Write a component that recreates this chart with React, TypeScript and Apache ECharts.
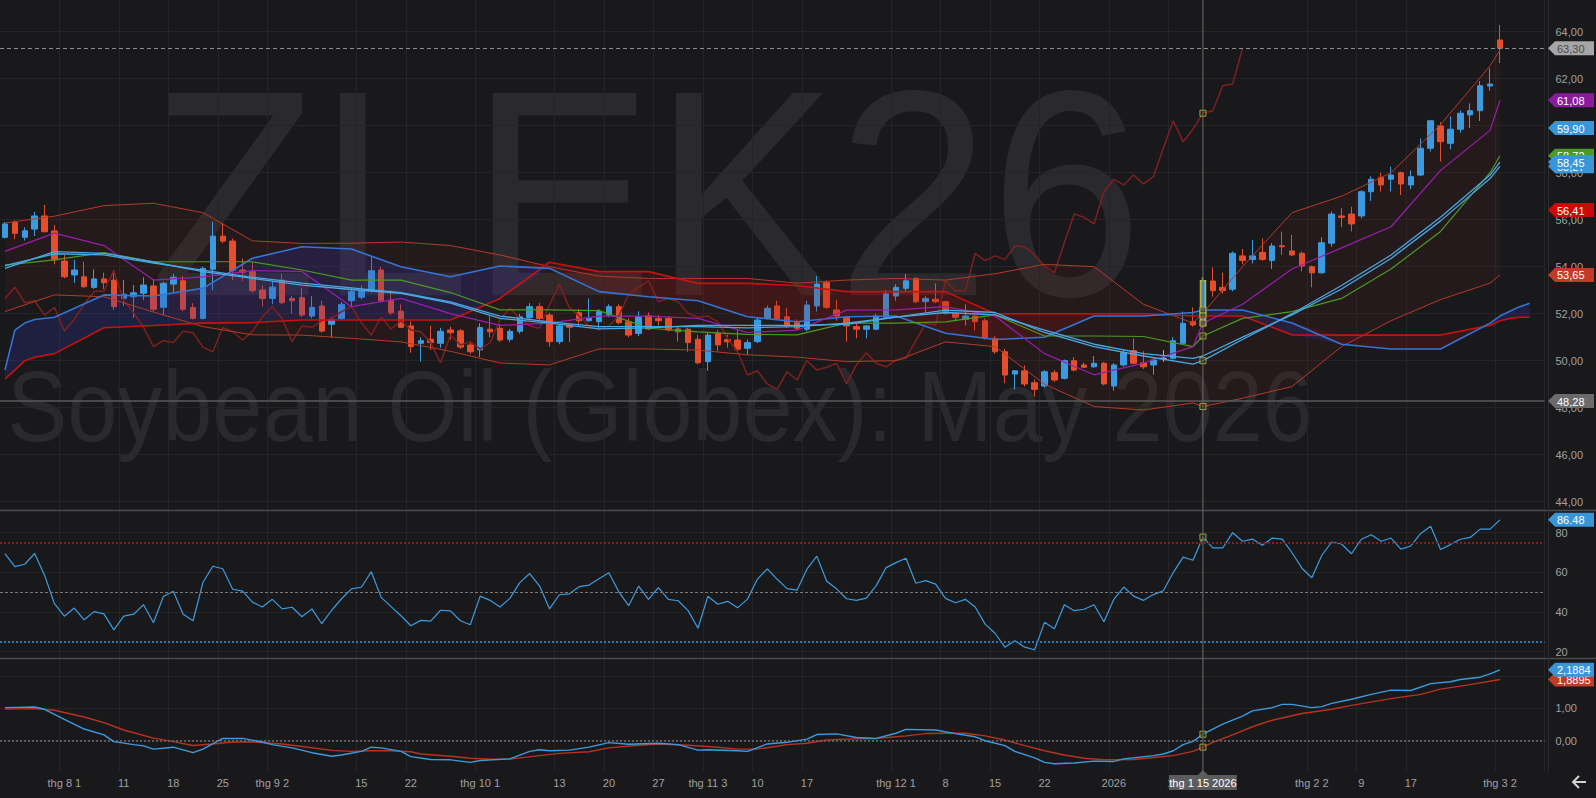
import React, { useEffect, useRef } from "react";
import * as echarts from "echarts";

// ---------- categories (trading days) ----------
const monthDays: [string, number[]][] = [
  ["2025-07", [24, 25, 28, 29, 30, 31]],
  ["2025-08", [1, 4, 5, 6, 7, 8, 11, 12, 13, 14, 15, 18, 19, 20, 21, 22, 25, 26, 27, 28, 29]],
  ["2025-09", [2, 3, 4, 5, 8, 9, 10, 11, 12, 15, 16, 17, 18, 19, 22, 23, 24, 25, 26, 29, 30]],
  ["2025-10", [1, 2, 3, 6, 7, 8, 9, 10, 13, 14, 15, 16, 17, 20, 21, 22, 23, 24, 27, 28, 29, 30, 31]],
  ["2025-11", [3, 4, 5, 6, 7, 10, 11, 12, 13, 14, 17, 18, 19, 20, 21, 24, 25, 26, 28]],
  ["2025-12", [1, 2, 3, 4, 5, 8, 9, 10, 11, 12, 15, 16, 17, 18, 19, 22, 23, 24, 26, 29, 30, 31]],
  ["2026-01", [2, 5, 6, 7, 8, 9, 12, 13, 14, 15, 16, 20, 21, 22, 23, 26, 27, 28, 29, 30]],
  ["2026-02", [2, 3, 4, 5, 6, 9, 10, 11, 12, 13, 17, 18, 19, 20, 23, 24, 25, 26, 27]],
  ["2026-03", [2]],
];
const futureSlots = ["+1", "+2", "+3", "+4"];

const tickLabels: Record<string, string> = {
  "2025-08-01": "thg 8 1", "2025-08-11": "11", "2025-08-18": "18", "2025-08-25": "25",
  "2025-09-02": "thg 9 2", "2025-09-15": "15", "2025-09-22": "22",
  "2025-10-01": "thg 10 1", "2025-10-13": "13", "2025-10-20": "20", "2025-10-27": "27",
  "2025-11-03": "thg 11 3", "2025-11-10": "10", "2025-11-17": "17",
  "2025-12-01": "thg 12 1", "2025-12-08": "8", "2025-12-15": "15", "2025-12-22": "22",
  "2026-01-02": "2026", "2026-01-12": "12",
  "2026-02-02": "thg 2 2", "2026-02-09": "9", "2026-02-17": "17", "2026-03-02": "thg 3 2",
};
const crossDate = "2026-01-15";
const crossLabel = "thg 1 15 2026";

// ---------- OHLC ----------
const open = [
  55.25, 55.89, 55.25, 55.60, 56.16, 55.52, 54.24, 53.65, 53.57, 53.12,
  53.48, 53.43, 52.65, 52.72, 52.87, 53.18, 52.27, 53.26, 53.40, 52.26,
  51.80, 53.89, 55.30, 55.09, 53.86, 53.79, 53.01, 52.65, 53.43, 52.65,
  52.68, 51.90, 52.33, 51.55, 51.80, 52.55, 52.70, 52.98, 53.86, 52.58,
  52.11, 51.48, 50.74, 50.91, 50.74, 51.31, 51.27, 50.67, 50.46, 51.34,
  51.38, 50.91, 51.25, 51.83, 52.30, 51.94, 50.81, 51.52, 52.04, 51.70,
  51.66, 51.94, 52.30, 51.66, 51.16, 51.91, 51.80, 51.80, 51.35, 51.34,
  50.91, 49.96, 51.16, 50.90, 50.88, 50.53, 50.81, 51.80, 52.33, 51.87,
  51.62, 51.34, 52.33, 53.32, 52.16, 51.85, 51.45, 51.34, 51.34, 51.85,
  52.75, 53.08, 53.50, 52.51, 52.62, 52.51, 52.02, 51.76, 51.90, 51.70,
  50.95, 50.38, 49.43, 49.57, 49.06, 48.92, 49.49, 49.25, 50.00, 49.82,
  49.74, 49.89, 48.92, 49.82, 50.43, 49.91, 49.82, 50.10, 50.10, 50.74,
  51.66, 51.50, 53.39, 53.12, 53.04, 54.46, 54.31, 54.61, 54.26, 54.89,
  54.67, 54.57, 54.00, 53.74, 55.00, 56.16, 56.24, 56.16, 57.19, 57.80,
  57.72, 58.00, 57.48, 57.90, 59.04, 59.99, 59.25, 59.85, 60.46, 60.64,
  61.69, 63.65,
];
const high = [
  55.90, 55.98, 55.68, 56.34, 56.63, 55.77, 54.50, 54.29, 54.21, 53.89,
  53.75, 53.86, 53.43, 53.22, 53.55, 53.47, 53.35, 53.70, 53.60, 52.45,
  54.00, 55.91, 55.86, 55.20, 54.35, 54.20, 53.20, 53.40, 53.70, 52.75,
  53.10, 52.75, 52.55, 51.87, 52.50, 53.10, 53.20, 54.43, 54.00, 53.00,
  52.40, 51.66, 51.00, 51.48, 51.40, 51.45, 51.35, 50.80, 51.60, 51.90,
  51.55, 51.35, 52.00, 52.45, 52.45, 52.05, 51.55, 51.60, 52.20, 52.65,
  52.20, 52.40, 52.40, 51.80, 52.10, 52.05, 51.95, 51.90, 51.45, 51.40,
  51.10, 51.20, 51.30, 51.10, 51.35, 50.90, 51.85, 52.35, 52.55, 52.25,
  51.75, 52.55, 53.60, 53.42, 52.60, 51.85, 51.60, 51.50, 52.00, 53.00,
  53.25, 53.69, 53.55, 52.75, 53.29, 52.55, 52.05, 52.40, 51.95, 51.80,
  51.05, 50.50, 49.60, 49.80, 49.20, 49.60, 49.60, 50.05, 50.15, 49.92,
  50.20, 49.95, 49.90, 50.45, 50.95, 50.40, 50.10, 50.45, 51.00, 52.09,
  52.27, 53.55, 53.97, 53.75, 54.65, 54.75, 55.14, 55.20, 55.00, 55.49,
  55.35, 54.65, 54.05, 55.25, 56.35, 56.49, 56.55, 57.25, 57.85, 58.00,
  58.25, 58.05, 58.10, 59.46, 60.25, 60.15, 60.40, 60.65, 60.95, 61.90,
  62.44, 64.29,
];
const low = [
  55.20, 55.17, 55.11, 55.31, 55.45, 54.10, 53.50, 53.31, 53.10, 53.05,
  53.05, 52.16, 52.33, 51.82, 52.58, 52.09, 51.95, 52.90, 52.10, 51.75,
  51.75, 53.00, 55.00, 53.43, 53.40, 52.90, 52.30, 52.40, 52.40, 52.00,
  51.85, 51.80, 51.20, 50.98, 51.75, 52.30, 52.60, 52.90, 52.50, 51.95,
  51.40, 50.34, 49.96, 50.46, 50.55, 50.90, 50.50, 50.30, 50.16, 51.00,
  50.80, 50.80, 51.15, 51.75, 51.70, 50.60, 50.70, 50.80, 51.45, 51.66,
  51.30, 51.85, 51.55, 51.00, 51.05, 51.30, 51.50, 51.25, 50.81, 50.38,
  49.85, 49.57, 50.40, 50.55, 50.40, 50.25, 50.75, 51.75, 51.75, 51.40,
  51.30, 51.25, 52.09, 52.20, 51.70, 50.81, 50.95, 50.95, 51.30, 51.80,
  52.55, 52.94, 52.45, 52.05, 52.45, 51.95, 51.70, 51.50, 51.28, 50.90,
  50.30, 49.04, 48.78, 48.90, 48.47, 48.85, 49.10, 49.20, 49.55, 49.70,
  49.70, 48.95, 48.72, 49.75, 49.85, 49.65, 49.40, 49.95, 50.05, 50.70,
  51.45, 51.40, 52.72, 52.85, 52.95, 54.10, 54.14, 54.25, 53.90, 54.50,
  54.45, 53.80, 53.12, 53.70, 54.85, 55.68, 55.50, 56.05, 56.80, 57.20,
  57.20, 57.05, 57.30, 57.85, 58.90, 58.47, 59.00, 59.70, 59.90, 60.20,
  61.49, 62.66,
];
const close = [
  55.82, 55.42, 55.53, 56.16, 55.49, 54.29, 53.57, 53.86, 53.15, 53.48,
  53.32, 52.30, 52.83, 52.89, 53.22, 52.19, 53.29, 53.55, 52.19, 51.80,
  53.93, 55.30, 55.09, 53.83, 53.76, 52.98, 52.65, 53.13, 52.47, 52.55,
  51.94, 52.27, 51.26, 51.76, 52.40, 52.94, 52.97, 53.83, 52.55, 52.04,
  51.42, 50.60, 50.85, 50.77, 51.25, 51.19, 50.58, 50.38, 51.41, 51.23,
  50.88, 51.25, 51.87, 52.30, 51.80, 50.81, 51.48, 51.42, 51.70, 51.80,
  52.09, 52.30, 51.62, 51.09, 51.87, 51.35, 51.70, 51.31, 51.23, 50.77,
  49.91, 51.09, 50.67, 50.80, 50.49, 50.77, 51.73, 52.23, 51.80, 51.48,
  51.38, 52.37, 53.26, 52.27, 51.90, 51.48, 51.34, 51.48, 51.90, 52.84,
  53.12, 53.40, 52.51, 52.65, 52.51, 52.02, 51.85, 51.90, 51.66, 50.95,
  50.38, 49.39, 49.57, 49.01, 48.78, 49.53, 49.18, 50.00, 49.60, 49.72,
  49.89, 49.01, 49.82, 50.34, 49.89, 49.74, 50.03, 50.10, 50.85, 51.59,
  51.52, 53.40, 52.98, 52.98, 54.57, 54.26, 54.46, 54.31, 54.88, 54.85,
  54.50, 54.03, 53.74, 55.02, 56.24, 56.10, 55.82, 57.19, 57.72, 57.48,
  57.90, 57.52, 57.83, 59.04, 60.21, 59.32, 59.85, 60.53, 60.64, 61.70,
  61.77, 63.30,
];

// ---------- main-panel indicator lines, read at these bar indices ----------
const lineIdx = [0, 5, 10, 15, 20, 25, 30, 35, 40, 45, 50, 55, 60, 65, 70, 75, 80, 85, 90, 95, 100, 105, 110, 115, 120, 121, 125, 130, 135, 140, 145, 150, 151];
const bbUpper = [55.86, 56.15, 56.6, 56.7, 56.3, 55.1, 54.99, 55.0, 55.05, 54.9, 54.5, 54.0, 53.6, 53.5, 53.5, 53.5, 53.3, 53.43, 53.5, 53.43, 53.7, 54.1, 54.0, 52.4, 51.6, 52.03, 54.0, 56.3, 57.0, 58.0, 60.05, 62.55, 63.22];
const bbLower = [52.09, 52.8, 52.72, 52.07, 51.45, 51.1, 51.09, 50.95, 50.8, 50.4, 49.9, 49.82, 50.5, 50.5, 50.45, 50.25, 50.15, 49.96, 50.0, 50.8, 50.6, 49.0, 48.05, 47.9, 48.2, 48.05, 48.4, 48.9, 50.6, 51.7, 52.6, 53.3, 53.65];
const tenkan = [54.65, 55.43, 54.9, 53.43, 53.57, 53.83, 53.8, 52.3, 52.65, 52.0, 51.5, 51.6, 51.9, 51.9, 51.8, 51.2, 51.3, 52.15, 52.16, 52.3, 51.9, 50.3, 49.4, 49.9, 50.6, 51.6, 52.4, 53.9, 54.8, 55.7, 58.1, 59.8, 61.08];
const kijun = [54.07, 54.29, 54.6, 54.21, 54.21, 54.21, 53.86, 53.43, 53.43, 52.9, 52.16, 52.16, 52.13, 51.38, 51.23, 51.12, 51.1, 51.6, 51.6, 51.65, 51.95, 51.05, 51.05, 51.03, 50.6, 51.05, 51.8, 52.09, 52.65, 53.9, 55.5, 58.0, 58.72];
const sma20 = [53.93, 54.64, 54.57, 54.2, 53.79, 53.5, 53.22, 53.03, 52.87, 52.45, 51.8, 51.6, 51.35, 51.4, 51.5, 51.5, 51.5, 51.55, 51.85, 52.15, 52.05, 51.2, 50.6, 50.2, 49.85, 50.0, 50.9, 52.0, 53.2, 54.5, 56.1, 57.9, 58.45];
const ema20 = [54.05, 54.55, 54.5, 54.15, 53.85, 53.55, 53.3, 53.1, 52.9, 52.5, 51.9, 51.65, 51.45, 51.45, 51.45, 51.4, 51.45, 51.6, 51.85, 52.05, 51.95, 51.3, 50.7, 50.3, 50.1, 50.2, 51.0, 51.95, 53.05, 54.35, 55.95, 57.75, 58.27];

// ---------- Ichimoku cloud (runs a few bars past the last candle) ----------
const cloudIdx = [0, 1, 2, 3, 5, 10, 15, 20, 25, 30, 35, 40, 45, 50, 55, 60, 65, 70, 75, 80, 85, 90, 95, 100, 105, 110, 115, 120, 121, 125, 130, 135, 140, 145, 150, 151, 152, 153, 154];
const spanA = [49.6, 51.3, 51.6, 51.75, 51.85, 52.8, 52.75, 53.08, 54.36, 54.85, 54.75, 54.0, 53.57, 54.03, 53.93, 52.94, 52.72, 52.55, 51.87, 51.66, 51.87, 51.9, 51.17, 50.9, 51.0, 51.9, 51.9, 52.05, 52.16, 52.16, 51.6, 50.7, 50.5, 50.5, 51.6, 51.9, 52.1, 52.3, 52.44];
const spanB = [49.22, 49.6, 50.0, 50.15, 50.3, 51.4, 51.5, 51.6, 51.62, 51.73, 51.73, 51.73, 51.73, 52.65, 54.19, 53.79, 53.79, 53.29, 53.29, 53.2, 52.94, 52.94, 52.94, 52.0, 52.0, 52.0, 52.0, 51.9, 51.9, 51.9, 51.1, 51.09, 51.09, 51.09, 51.5, 51.7, 51.8, 51.85, 51.85];

// ---------- RSI (one value per bar) ----------
const rsi = [
  69.4, 62.9, 64.1, 69.5, 58.6, 44.2, 37.9, 42.0, 36.1, 40.2,
  39.1, 31.0, 37.9, 38.9, 43.7, 34.6, 47.8, 50.5, 38.9, 35.6,
  55.0, 63.1, 61.8, 51.5, 50.5, 45.0, 42.5, 46.4, 41.6, 42.4,
  37.6, 41.6, 34.1, 40.9, 46.7, 51.7, 52.5, 60.3, 47.4, 42.7,
  38.1, 33.1, 35.8, 35.4, 40.9, 40.6, 35.6, 33.6, 48.0, 45.9,
  42.5, 46.9, 54.8, 59.4, 53.1, 41.6, 48.7, 49.2, 52.8, 53.6,
  56.8, 59.8, 50.2, 43.2, 53.1, 46.4, 52.3, 46.4, 45.7, 40.7,
  31.8, 48.0, 43.9, 45.4, 42.1, 46.5, 56.6, 61.8, 56.5, 51.8,
  51.0, 61.6, 68.2, 55.5, 51.7, 46.7, 45.9, 47.0, 53.3, 62.4,
  64.9, 67.1, 54.5, 55.8, 54.1, 46.9, 44.7, 46.4, 42.5, 33.9,
  29.3, 22.3, 25.5, 22.3, 21.0, 34.8, 31.6, 43.7, 40.7, 41.4,
  43.7, 35.1, 46.4, 52.6, 48.0, 45.9, 48.8, 50.7, 59.9, 67.7,
  66.1, 77.8, 72.3, 72.3, 80.0, 75.7, 76.8, 73.7, 77.3, 76.8,
  69.9, 62.1, 57.3, 68.5, 75.3, 74.3, 69.4, 76.7, 79.0, 75.7,
  77.3, 71.7, 73.3, 79.6, 83.3, 71.5, 74.0, 76.7, 77.6, 81.8,
  81.8, 86.48,
];

// ---------- MACD (bar index, value) ----------
const macdLine: [number, number][] = [
  [0, 1.02], [3, 1.04], [4, 0.97], [6, 0.66], [8, 0.36], [10, 0.18], [11, -0.03], [13, -0.12], [14, -0.16], [15, -0.26],
  [17, -0.2], [19, -0.37], [20, -0.26], [22, 0.07], [24, 0.07], [26, -0.04], [27, -0.12], [29, -0.22], [31, -0.37], [33, -0.48],
  [34, -0.44], [36, -0.33], [37, -0.2], [38, -0.22], [40, -0.33], [41, -0.49], [43, -0.58], [45, -0.59], [47, -0.67], [48, -0.61],
  [51, -0.56], [53, -0.33], [54, -0.28], [55, -0.31], [57, -0.29], [59, -0.2], [61, -0.06], [63, -0.11], [66, -0.08], [68, -0.12],
  [70, -0.29], [71, -0.28], [74, -0.31], [75, -0.33], [77, -0.1], [79, -0.05], [81, 0.05], [82, 0.19], [84, 0.21], [86, 0.1],
  [88, 0.07], [90, 0.23], [91, 0.35], [94, 0.33], [96, 0.22], [98, 0.12], [99, 0.0], [101, -0.15], [102, -0.33], [104, -0.53],
  [105, -0.67], [106, -0.71], [108, -0.69], [110, -0.63], [112, -0.64], [113, -0.56], [116, -0.46], [117, -0.41], [118, -0.31], [119, -0.12],
  [120, -0.02], [121, 0.2], [122, 0.36], [123, 0.51], [125, 0.76], [126, 0.92], [128, 1.02], [129, 1.12], [130, 1.12], [132, 1.02],
  [133, 1.05], [134, 1.15], [136, 1.28], [138, 1.43], [140, 1.56], [142, 1.55], [144, 1.76], [146, 1.82], [147, 1.89], [149, 1.96],
  [150, 2.06], [151, 2.1884],
];
const signalLine: [number, number][] = [
  [0, 0.98], [3, 0.99], [5, 0.94], [8, 0.73], [10, 0.56], [12, 0.33], [15, 0.08], [17, -0.03], [19, -0.15], [21, -0.1],
  [23, -0.04], [25, -0.04], [28, -0.1], [30, -0.18], [33, -0.3], [35, -0.33], [37, -0.31], [39, -0.31], [41, -0.34], [42, -0.41],
  [45, -0.48], [47, -0.54], [49, -0.57], [51, -0.57], [54, -0.46], [56, -0.39], [59, -0.34], [61, -0.22], [64, -0.14], [66, -0.1],
  [69, -0.14], [72, -0.2], [74, -0.26], [76, -0.26], [78, -0.17], [79, -0.12], [81, -0.08], [83, 0.02], [85, 0.05], [88, 0.07],
  [91, 0.15], [93, 0.22], [95, 0.23], [97, 0.23], [99, 0.15], [101, 0.02], [103, -0.15], [105, -0.31], [107, -0.44], [109, -0.54],
  [111, -0.59], [114, -0.58], [116, -0.52], [118, -0.46], [120, -0.33], [121, -0.2], [122, -0.05], [124, 0.18], [126, 0.43], [128, 0.63],
  [131, 0.84], [134, 0.97], [136, 1.09], [140, 1.3], [143, 1.43], [145, 1.59], [148, 1.73], [151, 1.8895],
];

// ---------- axis ticks & reference levels ----------
const mainTicks = [44, 46, 48, 50, 52, 54, 56, 58, 60, 62, 64];
const rsiTicks = [20, 40, 60, 80];
const macdTicks = [0, 1, 2];
const rsiLevels = [75, 50, 25];
const lastPrice = 63.3;
const hLine = 48.28;

const mainTags: [number, string, string, string][] = [
  [63.3, "63,30", "#a6a6a6", "#4a4a4a"],
  [61.08, "61,08", "#8c1a9c", "#ffffff"],
  [59.9, "59,90", "#3895d8", "#ffffff"],
  [58.72, "58,72", "#4a9a24", "#ffffff"],
  [58.27, "58,27", "#3895d8", "#ffffff"],
  [58.45, "58,45", "#3895d8", "#ffffff"],
  [56.41, "56,41", "#cc0808", "#ffffff"],
  [53.65, "53,65", "#c23a28", "#ffffff"],
  [48.28, "48,28", "#6a6a6a", "#ffffff"],
];
const rsiTags: [number, string, string, string][] = [[86.48, "86.48", "#3895d8", "#ffffff"]];
const macdTags: [number, string, string, string][] = [
  [1.8895, "1,8895", "#c23a28", "#ffffff"],
  [2.1884, "2,1884", "#3895d8", "#ffffff"],
];

const UP = "#3c9be0";
const DOWN = "#e54e2c";
const BG = "#19191c";
const GRIDC = "#252528";
const FONT = "Liberation Sans, Arial, sans-serif";

const fmt2 = (v: number) => v.toFixed(2).replace(".", ",");

export default function App() {
  const ref = useRef<HTMLDivElement>(null);

  useEffect(() => {
    const el = ref.current;
    if (!el) return;
    const chart = echarts.init(el, null, { renderer: "svg" });

    const categories: string[] = [];
    monthDays.forEach(([m, ds]) => ds.forEach((d) => categories.push(`${m}-${String(d).padStart(2, "0")}`)));
    futureSlots.forEach((f) => categories.push(f));
    const crossIdx = categories.indexOf(crossDate);

    const showTick = (_i: number, v: string) => tickLabels[v] !== undefined;
    const pairs = (idx: number[], vals: number[]) => idx.map((i, k) => [i, vals[k]]);
    const lineAt = (vals: number[]) => vals[lineIdx.indexOf(crossIdx)];
    const cloudAt = (vals: number[]) => vals[cloudIdx.indexOf(crossIdx)];

    const candleData = open.map((o, i) => {
      const v = [o, close[i], low[i], high[i]];
      if (o === close[i]) {
        return { value: v, itemStyle: { color: "#b0b0b0", color0: "#b0b0b0", borderColor: "#b0b0b0", borderColor0: "#b0b0b0" } };
      }
      if (i === crossIdx) {
        return { value: v, itemStyle: { borderColor: "#b3b33a", borderColor0: "#b3b33a", borderWidth: 1.5 } };
      }
      return v;
    });

    const cloudBase = spanA.map((a, k) => Math.min(a, spanB[k]));
    const cloudBlue = spanA.map((a, k) => Math.max(a - spanB[k], 0));
    const cloudRed = spanA.map((a, k) => Math.max(spanB[k] - a, 0));
    const chikou = close.slice(26).map((c, i) => [i, c]);

    const xAxis = [0, 1, 2].map((g) => ({
      type: "category",
      gridIndex: g,
      data: categories,
      boundaryGap: true,
      axisLine: { show: false },
      axisTick: { show: false },
      axisLabel:
        g === 2
          ? { show: true, interval: showTick, formatter: (v: string) => tickLabels[v] ?? "", color: "#a0a0a0", fontSize: 11, fontFamily: FONT, margin: 6 }
          : { show: false },
      splitLine: { show: true, interval: showTick, lineStyle: { color: GRIDC, width: 1 } },
    }));

    const yBase = (g: number, min: number, max: number, ticks: number[], fmt: (v: number) => string) => ({
      type: "value",
      gridIndex: g,
      position: "right",
      min,
      max,
      axisLine: { show: false },
      axisTick: { show: false, customValues: ticks },
      axisLabel: { show: true, customValues: ticks, formatter: fmt, color: "#a0a0a0", fontSize: 11, fontFamily: FONT, margin: 11 },
      splitLine: { show: true, lineStyle: { color: GRIDC, width: 1 } },
    });

    const ln = (data: any[], color: string, width: number, z: number, g = 0, extra: any = {}) => ({
      type: "line",
      xAxisIndex: g,
      yAxisIndex: g,
      data,
      symbol: "none",
      showSymbol: false,
      silent: true,
      lineStyle: { color, width },
      z,
      ...extra,
    });

    const marker = (g: number, pts: number[][]) => ({
      type: "scatter",
      xAxisIndex: g,
      yAxisIndex: g,
      data: pts,
      symbol: "rect",
      symbolSize: 6,
      silent: true,
      itemStyle: { color: "rgba(40,40,10,0.6)", borderColor: "#c4c43c", borderWidth: 1 },
      z: 20,
    });

    const option: any = {
      animation: false,
      backgroundColor: BG,
      grid: [
        { left: -1.5, right: 51.5, top: 0, height: 511 },
        { left: -1.5, right: 51.5, top: 511, height: 147 },
        { left: -1.5, right: 51.5, top: 658, height: 113 },
      ],
      xAxis,
      yAxis: [
        yBase(0, 43.604, 65.349, mainTicks, fmt2),
        yBase(1, 16.82, 90.94, rsiTicks, (v: number) => String(Math.round(v))),
        yBase(2, -0.935, 2.552, macdTicks, fmt2),
      ],
      series: [
        ln(pairs(lineIdx, bbLower), "rgba(0,0,0,0)", 0, 1, 0, { stack: "bb" }),
        ln(pairs(lineIdx, bbUpper.map((u, k) => u - bbLower[k])), "rgba(0,0,0,0)", 0, 1, 0, {
          stack: "bb",
          areaStyle: { color: "rgba(120,32,28,0.16)" },
        }),
        {
          type: "candlestick",
          xAxisIndex: 0,
          yAxisIndex: 0,
          data: candleData,
          barWidth: 6,
          silent: true,
          itemStyle: { color: UP, color0: DOWN, borderColor: UP, borderColor0: DOWN, borderWidth: 1 },
          z: 2,
          markLine: {
            silent: true,
            symbol: "none",
            label: { show: false },
            data: [
              { yAxis: lastPrice, lineStyle: { color: "#8c8c8c", type: [4, 3], width: 1 } },
              { yAxis: hLine, lineStyle: { color: "#5a5a5a", type: "solid", width: 1.5 } },
            ],
          },
        },
        ln(pairs(cloudIdx, cloudBase), "rgba(0,0,0,0)", 0, 3, 0, { stack: "cloud" }),
        ln(pairs(cloudIdx, cloudBlue), "rgba(0,0,0,0)", 0, 3, 0, { stack: "cloud", areaStyle: { color: "rgba(52,52,175,0.34)" } }),
        ln(pairs(cloudIdx, cloudRed), "rgba(0,0,0,0)", 0, 3, 0, { stack: "cloud", areaStyle: { color: "rgba(160,18,18,0.30)" } }),
        ln(chikou, "#7e2020", 1.5, 4),
        ln(pairs(lineIdx, bbUpper), "#b5392a", 1, 4),
        ln(pairs(lineIdx, bbLower), "#b5392a", 1, 4),
        ln(pairs(cloudIdx, spanB), "#c81212", 1.6, 4),
        ln(pairs(cloudIdx, spanA), "#3574d6", 1.6, 4),
        ln(pairs(lineIdx, kijun), "#4b9a22", 1.2, 4),
        ln(pairs(lineIdx, tenkan), "#9a1eae", 1.2, 4),
        ln(pairs(lineIdx, ema20), "#4aa8e2", 1.3, 4),
        ln(pairs(lineIdx, sma20), "#4aa8e2", 1.3, 4),
        marker(0, [
          [crossIdx, close[crossIdx + 26]],
          [crossIdx, lineAt(bbUpper)],
          [crossIdx, lineAt(bbLower)],
          [crossIdx, lineAt(tenkan)],
          [crossIdx, lineAt(kijun)],
          [crossIdx, lineAt(sma20)],
          [crossIdx, cloudAt(spanA)],
          [crossIdx, cloudAt(spanB)],
        ]),
        ln(rsi.map((v, i) => [i, v]), "#3c9be0", 1.2, 4, 1, {
          markLine: {
            silent: true,
            symbol: "none",
            label: { show: false },
            data: [
              { yAxis: rsiLevels[0], lineStyle: { color: "#8e1c1c", type: [2, 2], width: 2 } },
              { yAxis: rsiLevels[1], lineStyle: { color: "#7a7a7a", type: [3, 2], width: 1 } },
              { yAxis: rsiLevels[2], lineStyle: { color: "#2a78b8", type: [2, 2], width: 2 } },
            ],
          },
        }),
        marker(1, [[crossIdx, rsi[crossIdx]]]),
        ln(signalLine, "#b83222", 1.4, 4, 2, {
          markLine: {
            silent: true,
            symbol: "none",
            label: { show: false },
            data: [{ yAxis: 0, lineStyle: { color: "#6e6e6e", type: [2, 2], width: 1.5 } }],
          },
        }),
        ln(macdLine, "#3c9be0", 1.4, 5, 2),
        marker(2, [
          [crossIdx, (macdLine.find((p) => p[0] === crossIdx) || [0, 0])[1]],
          [crossIdx, (signalLine.find((p) => p[0] === crossIdx) || [0, 0])[1]],
        ]),
      ],
    };

    chart.setOption(option);

    const yPix = (g: number, v: number) => chart.convertToPixel({ yAxisIndex: g } as any, v) as unknown as number;
    const xCross = chart.convertToPixel({ xAxisIndex: 0 } as any, categories[crossIdx]) as unknown as number;

    const graphics: any[] = [];
    // watermark
    graphics.push({
      type: "text",
      x: 646,
      y: 193,
      scaleX: 0.935,
      z: -5,
      silent: true,
      style: { text: "ZLEK26", fill: "#2a2a2e", fontSize: 294, fontFamily: FONT, align: "center", verticalAlign: "middle" },
    });
    graphics.push({
      type: "text",
      x: 660,
      y: 406,
      scaleX: 0.9,
      z: -5,
      silent: true,
      style: { text: "Soybean Oil (Globex): May 2026", fill: "#2a2a2e", fontSize: 100, fontFamily: FONT, align: "center", verticalAlign: "middle" },
    });
    graphics.push({ type: "line", z: 50, silent: true, shape: { x1: 0, y1: 510.5, x2: 1596, y2: 510.5 }, style: { stroke: "#4c4c4f", lineWidth: 1.5 } });
    graphics.push({ type: "line", z: 50, silent: true, shape: { x1: 0, y1: 658.5, x2: 1596, y2: 658.5 }, style: { stroke: "#4c4c4f", lineWidth: 1.5 } });
    graphics.push({ type: "line", z: 50, silent: true, shape: { x1: 1548.5, y1: 0, x2: 1548.5, y2: 771 }, style: { stroke: "#2c2c30", lineWidth: 1 } });
    graphics.push({ type: "line", z: 60, silent: true, shape: { x1: xCross, y1: 0, x2: xCross, y2: 772 }, style: { stroke: "#6c6c6c", lineWidth: 1 } });
    graphics.push({ type: "polygon", z: 61, silent: true, shape: { points: [[xCross - 5, 775], [xCross, 770], [xCross + 5, 775]] }, style: { fill: "#5c5c5c" } });
    graphics.push({ type: "rect", z: 61, silent: true, shape: { x: xCross - 34, y: 775, width: 68, height: 15 }, style: { fill: "#5c5c5c" } });
    graphics.push({
      type: "text",
      z: 62,
      silent: true,
      x: xCross,
      y: 782.5,
      style: { text: crossLabel, fill: "#ffffff", fontSize: 11, fontFamily: FONT, align: "center", verticalAlign: "middle" },
    });
    graphics.push({ type: "polyline", z: 62, silent: true, shape: { points: [[1586, 782], [1573, 782]] }, style: { stroke: "#d0d0d0", lineWidth: 2, fill: null } });
    graphics.push({ type: "polyline", z: 62, silent: true, shape: { points: [[1579, 776], [1573, 782], [1579, 788]] }, style: { stroke: "#d0d0d0", lineWidth: 2, fill: null } });

    let zt = 100;
    const addTag = (y: number, text: string, bg: string, fg: string) => {
      graphics.push({
        type: "polygon",
        z: zt++,
        silent: true,
        shape: { points: [[1548, y], [1555, y - 7], [1594, y - 7], [1594, y + 7], [1555, y + 7]] },
        style: { fill: bg },
      });
      graphics.push({
        type: "text",
        z: zt++,
        silent: true,
        x: 1557,
        y: y + 0.5,
        style: { text, fill: fg, fontSize: 11, fontFamily: FONT, align: "left", verticalAlign: "middle" },
      });
    };
    mainTags.forEach(([v, t, bg, fg]) => addTag(yPix(0, v), t, bg, fg));
    rsiTags.forEach(([v, t, bg, fg]) => addTag(yPix(1, v), t, bg, fg));
    macdTags.forEach(([v, t, bg, fg]) => addTag(yPix(2, v), t, bg, fg));

    chart.setOption({ graphic: graphics });

    return () => chart.dispose();
  }, []);

  return <div ref={ref} style={{ position: "fixed", left: 0, top: 0, width: 1596, height: 798 }} />;
}
